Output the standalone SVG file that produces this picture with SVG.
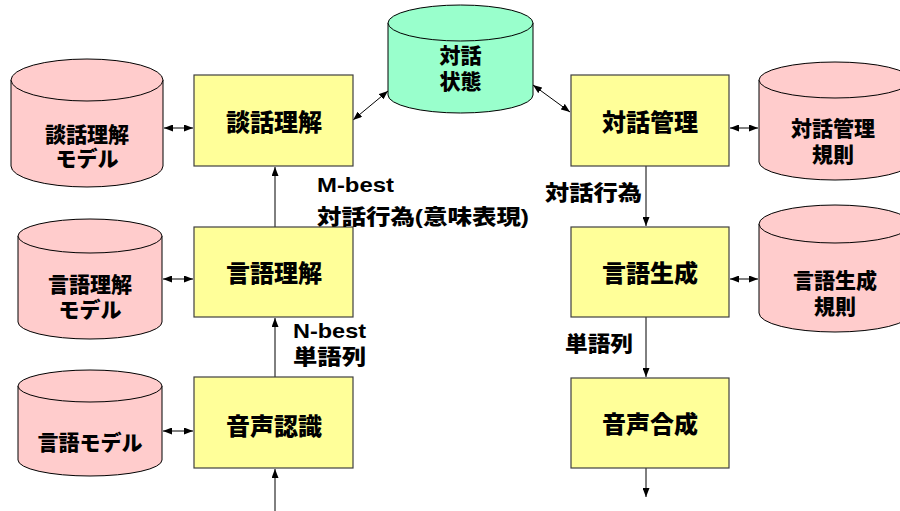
<svg xmlns="http://www.w3.org/2000/svg" width="900" height="511" viewBox="0 0 900 511">
<defs>
<style>
.box{fill:#FFFF99;stroke:#404040;stroke-width:1.2}
.cyl{fill:#FFCCCC;stroke:#000;stroke-width:1}
.cylg{fill:#99FFCC;stroke:#000;stroke-width:1}
text{font-family:"Liberation Sans","Noto Sans CJK JP",sans-serif;font-weight:900;fill:#000}
.bt{font-size:24px;text-anchor:middle}
.ct{font-size:21px;text-anchor:middle}
.lb{font-size:21px}
.cn line{stroke:#000;stroke-width:1;fill:none}
</style>
<marker id="ah" viewBox="0 0 10 10" refX="10" refY="5" markerWidth="9" markerHeight="7" preserveAspectRatio="none" orient="auto-start-reverse" markerUnits="userSpaceOnUse"><path d="M0,0 L10,5 L0,10 z" fill="#000"/></marker>
</defs>
<rect width="900" height="511" fill="#fff"/>

<g class="cn" id="connectors">
<line x1="164" y1="128" x2="193" y2="128" marker-start="url(#ah)" marker-end="url(#ah)"/>
<line x1="163" y1="279" x2="193" y2="279" marker-start="url(#ah)" marker-end="url(#ah)"/>
<line x1="163" y1="431" x2="193" y2="431" marker-start="url(#ah)" marker-end="url(#ah)"/>
<line x1="730" y1="128" x2="758" y2="128" marker-start="url(#ah)" marker-end="url(#ah)"/>
<line x1="730" y1="279" x2="758" y2="279" marker-start="url(#ah)" marker-end="url(#ah)"/>
<line x1="353" y1="120" x2="388" y2="91" marker-start="url(#ah)" marker-end="url(#ah)"/>
<line x1="533" y1="85" x2="570" y2="112" marker-start="url(#ah)" marker-end="url(#ah)"/>
<line x1="275" y1="377" x2="275" y2="318" marker-end="url(#ah)"/>
<line x1="275" y1="227" x2="275" y2="167" marker-end="url(#ah)"/>
<line x1="275" y1="511" x2="275" y2="469" marker-end="url(#ah)"/>
<line x1="646" y1="166" x2="646" y2="226" marker-end="url(#ah)"/>
<line x1="646" y1="317" x2="646" y2="377" marker-end="url(#ah)"/>
<line x1="646" y1="468" x2="646" y2="497" marker-end="url(#ah)"/>
</g>

<g id="db-danwa-model">
<path class="cyl" d="M11,80 V166 A76,21 0 0 0 163,166 V80 Z"/>
<ellipse class="cyl" cx="87" cy="80" rx="76" ry="21"/>
<text class="ct" x="87" y="142">談話理解</text>
<text class="ct" x="87" y="166">モデル</text>
</g>

<g id="db-gengo-rikai-model">
<path class="cyl" d="M18,236 V322 A72,17 0 0 0 162,322 V236 Z"/>
<ellipse class="cyl" cx="90" cy="236" rx="72" ry="17"/>
<text class="ct" x="90" y="292">言語理解</text>
<text class="ct" x="90" y="317">モデル</text>
</g>

<g id="db-gengo-model">
<path class="cyl" d="M18,386 V460 A72,16 0 0 0 162,460 V386 Z"/>
<ellipse class="cyl" cx="90" cy="386" rx="72" ry="16"/>
<text class="ct" x="90" y="450">言語モデル</text>
</g>

<g id="db-taiwa-jotai">
<path class="cylg" d="M388,23 V95 A72.5,18 0 0 0 533,95 V23 Z"/>
<ellipse class="cylg" cx="460.5" cy="23" rx="72.5" ry="18"/>
<text class="ct" x="460.5" y="63">対話</text>
<text class="ct" x="460.5" y="89">状態</text>
</g>

<g id="db-taiwa-kanri-kisoku">
<path class="cyl" d="M759,80 V162 A76,18 0 0 0 911,162 V80 Z"/>
<ellipse class="cyl" cx="835" cy="80" rx="76" ry="18"/>
<text class="ct" x="833" y="136">対話管理</text>
<text class="ct" x="833" y="162">規則</text>
</g>

<g id="db-gengo-seisei-kisoku">
<path class="cyl" d="M759,224 V313 A76,19 0 0 0 911,313 V224 Z"/>
<ellipse class="cyl" cx="835" cy="224" rx="76" ry="19"/>
<text class="ct" x="835" y="288">言語生成</text>
<text class="ct" x="835" y="314">規則</text>
</g>

<g id="n-danwa-rikai">
<rect class="box" x="194" y="75" width="159" height="91"/>
<text class="bt" x="274" y="131">談話理解</text>
</g>
<g id="n-gengo-rikai">
<rect class="box" x="194" y="227" width="159" height="90"/>
<text class="bt" x="274" y="282">言語理解</text>
</g>
<g id="n-onsei-ninshiki">
<rect class="box" x="194" y="377" width="159" height="91"/>
<text class="bt" x="274" y="435">音声認識</text>
</g>
<g id="n-taiwa-kanri">
<rect class="box" x="571" y="75" width="158" height="91"/>
<text class="bt" x="650" y="131">対話管理</text>
</g>
<g id="n-gengo-seisei">
<rect class="box" x="571" y="227" width="158" height="90"/>
<text class="bt" x="650" y="282">言語生成</text>
</g>
<g id="n-onsei-gosei">
<rect class="box" x="571" y="378" width="158" height="90"/>
<text class="bt" x="650" y="433">音声合成</text>
</g>

<g id="labels">
<text class="lb" x="317" y="192" textLength="77" lengthAdjust="spacingAndGlyphs">M-best</text>
<text class="lb" x="317" y="224" textLength="212" lengthAdjust="spacingAndGlyphs">対話行為(意味表現)</text>
<text class="lb" x="293" y="338" textLength="73" lengthAdjust="spacingAndGlyphs">N-best</text>
<text class="lb" x="293" y="364" textLength="73" lengthAdjust="spacingAndGlyphs">単語列</text>
<text class="lb" x="545" y="200" textLength="97" lengthAdjust="spacingAndGlyphs">対話行為</text>
<text class="lb" x="565" y="351" textLength="68" lengthAdjust="spacingAndGlyphs">単語列</text>
</g>
</svg>
